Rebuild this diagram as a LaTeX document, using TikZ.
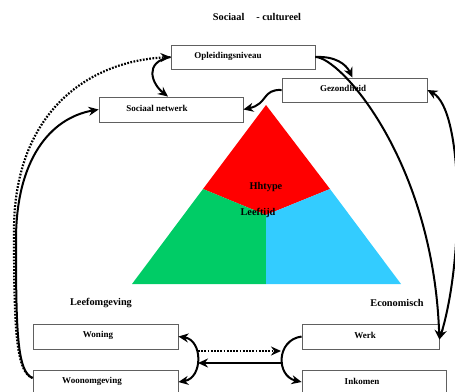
\documentclass[tikz,border=0pt]{standalone}
\usepackage{fontspec}
\setmainfont{Liberation Serif}
\usetikzlibrary{arrows.meta}
\definecolor{trigreen}{RGB}{0,204,102}
\definecolor{tricyan}{RGB}{51,204,255}
\begin{document}
\begin{tikzpicture}[x=1pt,y=-1pt,
  box/.style={draw=gray!75!black, line width=0.8pt, fill=white, inner sep=0pt, minimum height=24pt},
  lbl/.style={font=\bfseries\fontsize{9}{10}\selectfont, inner sep=0pt},
  head/.style={font=\bfseries\fontsize{10.3}{12}\selectfont, inner sep=0pt},
  tip/.style={-{Stealth[length=10pt,width=9pt]}},
  con/.style={line width=2pt, tip},
  bicon/.style={line width=2pt, {Stealth[length=10pt,width=9pt]}-{Stealth[length=10pt,width=9pt]}},
  dots/.style={line width=2.2pt, dash pattern=on 1.7pt off 1.5pt, tip}
]
\useasboundingbox (0,0) rectangle (455,391);

% triangle
\coordinate (A) at (266,105);
\coordinate (BL) at (132,284);
\coordinate (BR) at (401,284);
\coordinate (ML) at (203,189);
\coordinate (MR) at (330,189);
\coordinate (C) at (266,215);
\coordinate (BM) at (266,284);
\fill[red] (A) -- (MR) -- (C) -- (ML) -- cycle;
\fill[trigreen] (ML) -- (C) -- (BM) -- (BL) -- cycle;
\fill[tricyan] (MR) -- (BR) -- (BM) -- (C) -- cycle;
\node[head] (hh) at (266,187) {Hhtype};
\node[head] (lt) at (258,213) {Leeftijd};

% headings
\node[head] (title) at (257,17) {Sociaal\hspace{12pt}- cultureel};
\node[head] (leef) at (101,303) {Leefomgeving};
\node[head] (eco) at (397,303) {Economisch};

% boxes
\node[box, minimum width=144pt] (op) at (243,57) {};
\node[lbl] (opt) at (228,56) {Opleidingsniveau};
\node[box, minimum width=145pt] (gez) at (354.5,90) {};
\node[lbl] (gezt) at (343,88) {Gezondheid};
\node[box, minimum width=144pt, minimum height=25pt] (sn) at (171,109.5) {};
\node[lbl] (snt) at (157,108) {Sociaal netwerk};
\node[box, minimum width=145pt, minimum height=25pt] (won) at (105.5,336.5) {};
\node[lbl] (wont) at (98,335) {Woning};
\node[box, minimum width=145pt] (woon) at (105.5,382) {};
\node[lbl] (woont) at (92,381) {Woonomgeving};
\node[box, minimum width=137pt, minimum height=25pt] (werk) at (370.5,336.5) {};
\node[lbl] (werkt) at (365,335) {Werk};
\node[box, minimum width=144pt] (ink) at (374,382) {};
\node[lbl] (inkt) at (362,381) {Inkomen};

% left long curves
\draw[dots] ([yshift=4pt]woon.west) .. controls (16,372) and (14,330) .. (14,230)
   .. controls (14,120) and (80,62) .. (op.west);
\draw[con] ([yshift=4pt]woon.west) .. controls (17,372) and (16,330) .. (16,240)
   .. controls (16,160) and (50,118) .. (sn.west);

% op <-> sn
\draw[con] (op.west) .. controls (143,62) and (152,84) .. ([xshift=-3pt]sn.north);
% gez -> sn
\draw[con] (gez.west) .. controls (262,89) and (268,104) .. (sn.east);
% op -> gez
\draw[con] (op.east) .. controls (335,56) and (346,64) .. ([xshift=-2pt]gez.north);
% op -> werk
\draw[con] (op.east) .. controls (340,57) and (433,160) .. ([yshift=-3pt]werk.east);
% gez <-> werk
\draw[bicon] (gez.east) .. controls (464,110) and (464,260) .. ([yshift=-3pt]werk.east);

% bottom
\draw[bicon] (won.east) .. controls (203,340) and (203,378) .. (woon.east);
\draw[con] (werk.west) .. controls (276,340) and (276,376) .. (ink.west);
\coordinate (d1) at (198,351);
\coordinate (d2) at (281,351);
\coordinate (s1) at (283,363);
\coordinate (s2) at (198,363);
\draw[dots] (d1) -- (d2);
\draw[con] (s1) -- (s2);
\end{tikzpicture}
\end{document}
